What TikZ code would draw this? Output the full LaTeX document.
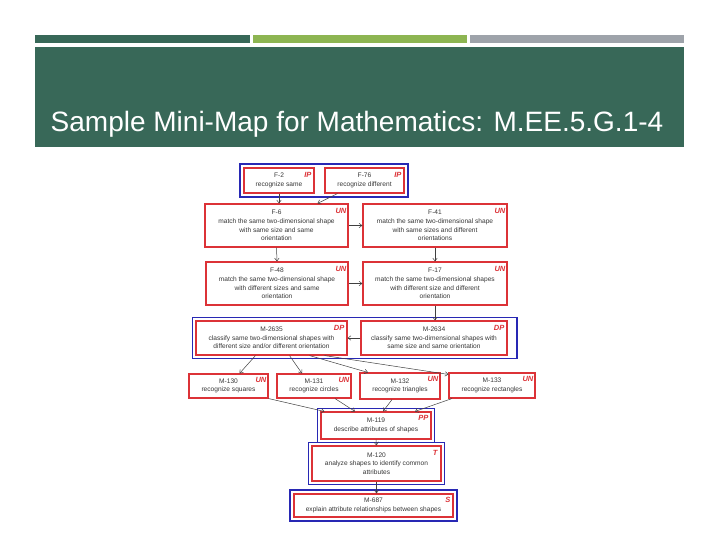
\documentclass[tikz,border=0pt]{standalone}
\usepackage{fontspec}
\setmainfont{Liberation Sans}
\usetikzlibrary{arrows.meta, fit}

\definecolor{hdrgreen}{RGB}{56,104,88}
\definecolor{limegreen}{RGB}{141,181,82}
\definecolor{bargray}{RGB}{158,163,170}
\definecolor{boxred}{RGB}{220,50,55}
\definecolor{grpblue}{RGB}{40,40,180}
\definecolor{txtgray}{RGB}{55,55,55}

\tikzset{
  skill/.style={rectangle, draw=boxred, line width=1.1pt, fill=white, inner sep=0pt, align=center, text=txtgray, font=\fontsize{6.6}{8.6}\selectfont},
  status/.style={anchor=north east, inner sep=0pt, text=boxred, font=\fontsize{7.5}{8}\selectfont\bfseries\itshape},
  group/.style={rectangle, draw=grpblue, line width=1.2pt, inner sep=3pt},
  arrow/.style={draw=black!75, line width=0.5pt, -{Straight Barb[length=3pt,width=4.5pt]}},
}

\begin{document}
\begin{tikzpicture}[x=1pt, y=-1pt]
\useasboundingbox (0,0) rectangle (720,540);

% header
\fill[hdrgreen] (35,35) rectangle (250,43);
\fill[limegreen] (253,35) rectangle (467,43);
\fill[bargray] (470,35) rectangle (684,43);
\fill[hdrgreen] (35,47) rectangle (684,147);
\node (title) [anchor=base, inner sep=0pt, text=white, font=\fontsize{28}{30}\selectfont] at (357,132) {Sample Mini-Map for Mathematics: M.EE.5.G.1-4};

% skill nodes
\node (f2) [skill, minimum width=70pt, minimum height=25pt] at (279,180.5) {F-2\\recognize same};
\node (f76) [skill, minimum width=79pt, minimum height=25pt] at (364.5,180.5) {F-76\\recognize different};
\node (f6) [skill, minimum width=143pt, minimum height=43pt] at (276.5,225.5) {F-6\\match the same two-dimensional shape\\with same size and same\\orientation};
\node (f41) [skill, minimum width=144pt, minimum height=43pt] at (435,225.5) {F-41\\match the same two-dimensional shape\\with same sizes and different\\orientations};
\node (f48) [skill, minimum width=142pt, minimum height=43pt] at (277,283.5) {F-48\\match the same two-dimensional shape\\with different sizes and same\\orientation};
\node (f17) [skill, minimum width=144pt, minimum height=43pt] at (435,283.5) {F-17\\match the same two-dimensional shapes\\with different size and different\\orientation};
\node (m2635) [skill, minimum width=151pt, minimum height=34pt] at (271.5,338) {M-2635\\classify same two-dimensional shapes with\\different size and/or different orientation};
\node (m2634) [skill, minimum width=146pt, minimum height=34pt] at (434,338) {M-2634\\classify same two-dimensional shapes with\\same size and same orientation};
\node (m130) [skill, minimum width=79pt, minimum height=24pt] at (228.5,386) {M-130\\recognize squares};
\node (m131) [skill, minimum width=74pt, minimum height=24pt] at (314,386) {M-131\\recognize circles};
\node (m132) [skill, minimum width=80pt, minimum height=26pt] at (400,386) {M-132\\recognize triangles};
\node (m133) [skill, minimum width=86pt, minimum height=25pt] at (492,385.5) {M-133\\recognize rectangles};
\node (m119) [skill, minimum width=110pt, minimum height=27pt] at (376,425.5) {M-119\\describe attributes of shapes};
\node (m120) [skill, minimum width=129pt, minimum height=35pt] at (376.5,463.5) {M-120\\analyze shapes to identify common\\attributes};
\node (m687) [skill, minimum width=159pt, minimum height=23pt] at (373.5,505.5) {M-687\\explain attribute relationships between shapes};

% status marks
\node (f2s) [status] at ([xshift=-3pt, yshift=-4.5pt]f2.north east) {IP};
\node (f76s) [status] at ([xshift=-3pt, yshift=-4.5pt]f76.north east) {IP};
\node (f6s) [status] at ([xshift=-2pt, yshift=-4.5pt]f6.north east) {UN};
\node (f41s) [status] at ([xshift=-2pt, yshift=-4.5pt]f41.north east) {UN};
\node (f48s) [status] at ([xshift=-2pt, yshift=-4.5pt]f48.north east) {UN};
\node (f17s) [status] at ([xshift=-2pt, yshift=-4.5pt]f17.north east) {UN};
\node (m2635s) [status] at ([xshift=-3pt, yshift=-4.5pt]m2635.north east) {DP};
\node (m2634s) [status] at ([xshift=-3pt, yshift=-4.5pt]m2634.north east) {DP};
\node (m130s) [status] at ([xshift=-2pt, yshift=-4pt]m130.north east) {UN};
\node (m131s) [status] at ([xshift=-2pt, yshift=-4pt]m131.north east) {UN};
\node (m132s) [status] at ([xshift=-2pt, yshift=-4pt]m132.north east) {UN};
\node (m133s) [status] at ([xshift=-2pt, yshift=-4pt]m133.north east) {UN};
\node (m119s) [status] at ([xshift=-3pt, yshift=-4pt]m119.north east) {PP};
\node (m120s) [status] at ([xshift=-4pt, yshift=-4.5pt]m120.north east) {T};
\node (m687s) [status] at ([xshift=-3pt, yshift=-3.5pt]m687.north east) {S};

% blue groups
\coordinate (grpmright) at (514,338);
\node (grpf) [group, inner sep=3.5pt, fit=(f2)(f76)] {};
\node (grpm) [group, fit=(m2635)(m2634)(grpmright)] {};
\node (grp119) [group, fit=(m119)] {};
\node (grp120) [group, fit=(m120)] {};
\node (grp687) [group, inner sep=3.5pt, fit=(m687)] {};

% connectors
\draw [arrow] (f2.south) -- (f2.south |- f6.north);
\draw [arrow] ([xshift=-27pt]f76.south) -- ([xshift=41pt]f6.north);
\draw [arrow] (f6.east) -- (f41.west);
\draw [arrow] (f6.south) -- (f48.north);
\draw [arrow] (f41.south) -- (f17.north);
\draw [arrow] (f48.east) -- (f17.west);
\draw [arrow] (f17.south) -- (f17.south |- m2634.north);
\draw [arrow] (m2634.west) -- (m2635.east);
\draw [arrow] ([xshift=-16pt]m2635.south) -- ([xshift=11pt]m130.north);
\draw [arrow] ([xshift=18pt]m2635.south) -- ([xshift=-12pt]m131.north);
\draw [arrow] ([xshift=38pt]m2635.south) -- ([xshift=-32pt]m132.north);
\draw [arrow] ([xshift=53pt]m2635.south) -- ([yshift=-2pt]m133.north west);
\draw [arrow] (m130.south east) -- ([xshift=4pt]m119.north west);
\draw [arrow] ([xshift=21pt]m131.south) -- ([xshift=-21pt]m119.north);
\draw [arrow] ([xshift=-8pt]m132.south) -- ([xshift=7pt]m119.north);
\draw [arrow] ([xshift=-40pt]m133.south) -- ([xshift=39pt]m119.north);
\draw [arrow] (m119.south) -- (m120.north);
\draw [arrow] (m120.south) -- (m120.south |- m687.north);

\end{tikzpicture}
\end{document}
